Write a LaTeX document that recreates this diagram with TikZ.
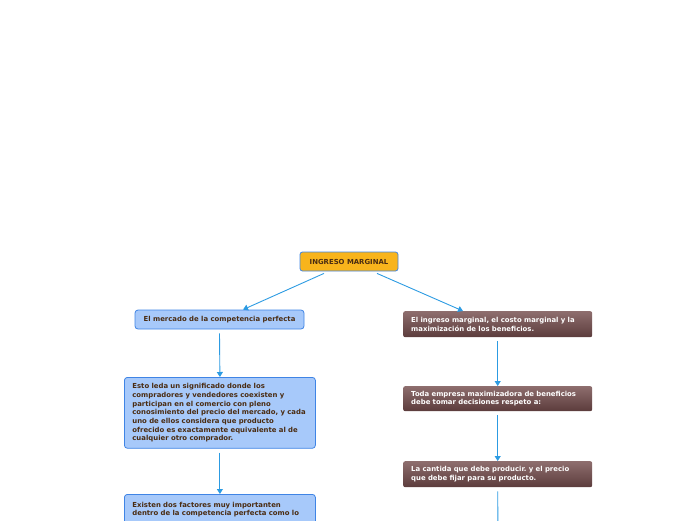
\documentclass[tikz,border=0pt]{standalone}
\usepackage{fontspec}
\setmainfont{DejaVu Sans}
\usetikzlibrary{arrows.meta}
\definecolor{rootfill}{HTML}{F8B41C}
\definecolor{bluefill}{HTML}{A7C9FA}
\definecolor{blueline}{HTML}{3F84E5}
\definecolor{linkblue}{HTML}{2C9BE2}
\definecolor{browntop}{HTML}{8E6E6E}
\definecolor{brownbot}{HTML}{5C3C3C}
\definecolor{darktext}{HTML}{4A2C12}
\frenchspacing
\begin{document}
\begin{tikzpicture}[
    x=1pt, y=-1pt,
    every node/.style={font=\bfseries\fontsize{6.9}{8.7}\selectfont, align=left},
    rootbox/.style={draw=blueline, line width=0.8pt, fill=rootfill, rounded corners=2.5pt,
      text=darktext, minimum width=98pt, minimum height=19pt, align=center},
    bluebox/.style={draw=blueline, line width=0.8pt, fill=bluefill, rounded corners=3pt,
      text=darktext, inner xsep=8pt, anchor=north west},
    brownbox/.style={top color=browntop, bottom color=brownbot, rounded corners=2pt,
      text=white, inner xsep=8pt, anchor=north west, text width=173pt},
    link/.style={draw=linkblue, line width=0.9pt, -{Triangle[length=5pt,width=6pt]}}
  ]
  \useasboundingbox (0,0) rectangle (696,520);
  \clip (0,0) rectangle (696,520);

  \node[rootbox] (ingreso) at (349,261.5) {INGRESO MARGINAL};

  % left branch
  \node[bluebox, minimum width=169pt, minimum height=19pt, align=center, anchor=center]
    (mercado) at (219.5,319.5) {El mercado de la competencia perfecta};
  \node[bluebox, text width=175pt, inner ysep=6pt, minimum height=70pt] (significado) at (124,377)
    {Esto leda un significado donde los\\
     compradores y vendedores coexisten y\\
     participan en el comercio con pleno\\
     conosimiento del precio del mercado, y cada\\
     uno de ellos considera que producto\\
     ofrecido es exactamente equivalente al de\\
     cualquier otro comprador.};
  \node[bluebox, text width=175pt, inner ysep=7.5pt, text depth=30pt] (factores) at (124,494)
    {Existen dos factores muy importanten\\
     dentro de la competencia perfecta como lo};

  % right branch
  \node[brownbox, minimum height=26pt] (beneficios) at (403,311)
    {El ingreso marginal, el costo marginal y la\\
     maximización de los beneficios.};
  \node[brownbox, minimum height=25pt] (decisiones) at (403,386)
    {Toda empresa maximizadora de beneficios\\
     debe tomar decisiones respeto a:};
  \node[brownbox, minimum height=26pt] (cantidad) at (403,461)
    {La cantida que debe producir. y el precio\\
     que debe fijar para su producto.};
  \coordinate (abajo) at (498,540);

  \draw[link] (ingreso.south) ++(-25,2) coordinate (ingresoL) -- (mercado.north -| 243,0);
  \draw[link] (ingreso.south) ++(28,2) coordinate (ingresoR) -- (beneficios.north -| 463,0);
  \draw[link] (mercado.south) ++(0,4) -- (significado.north);
  \draw[link] (significado.south) ++(0,4) -- (factores.north);
  \draw[link] (beneficios.south) ++(0,4) -- (decisiones.north);
  \draw[link] (decisiones.south) ++(0,4) -- (cantidad.north);
  \draw[draw=linkblue, line width=0.9pt] (cantidad.south) ++(0,4) -- (abajo);
\end{tikzpicture}
\end{document}
